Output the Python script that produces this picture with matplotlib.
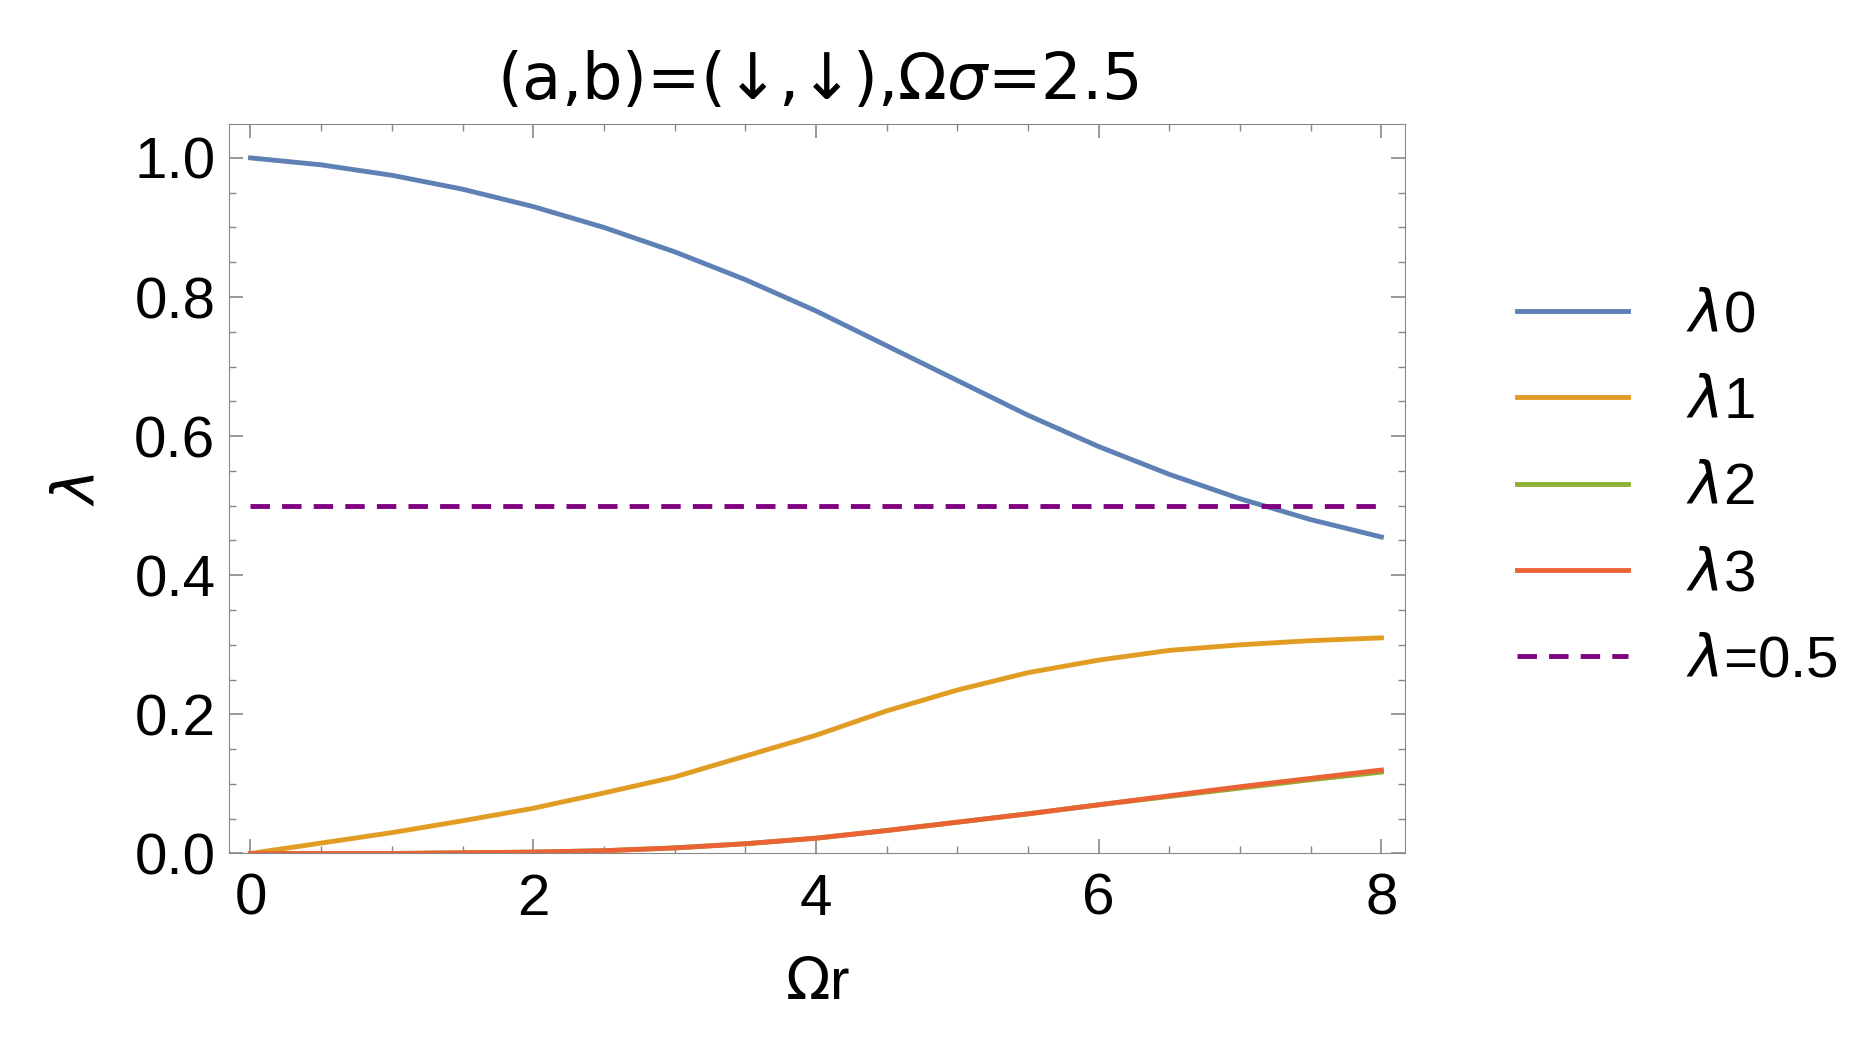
import matplotlib
matplotlib.use("Agg")
import matplotlib.pyplot as plt
from matplotlib.ticker import MultipleLocator, FormatStrFormatter

plt.rcParams['font.family'] = ['Liberation Sans', 'DejaVu Sans']
plt.rcParams['mathtext.fontset'] = 'dejavusans'

x = [0, 0.5, 1, 1.5, 2, 2.5, 3, 3.5, 4, 4.5, 5, 5.5, 6, 6.5, 7, 7.5, 8]
lam0 = [1.0, 0.99, 0.975, 0.955, 0.93, 0.9, 0.865, 0.825, 0.78, 0.73, 0.68, 0.63, 0.585, 0.545, 0.51, 0.48, 0.455]
lam1 = [0.0, 0.015, 0.03, 0.047, 0.065, 0.087, 0.11, 0.14, 0.17, 0.205, 0.235, 0.26, 0.278, 0.292, 0.3, 0.306, 0.31]
lam2 = [0.0, 0.0, 0.0, 0.001, 0.002, 0.004, 0.008, 0.014, 0.022, 0.033, 0.045, 0.057, 0.07, 0.082, 0.094, 0.106, 0.117]
lam3 = [0.0, 0.0, 0.0, 0.001, 0.002, 0.004, 0.008, 0.014, 0.022, 0.033, 0.045, 0.057, 0.07, 0.083, 0.096, 0.108, 0.12]
threshold = 0.5

fig = plt.figure(figsize=(18.64, 10.55), dpi=100)
ax = fig.add_axes([0.123, 0.191, 0.631, 0.691])
ax.plot(x, lam0, color='#5E81B5', lw=3.5, label=r'$\lambda$0')
ax.plot(x, lam1, color='#E19C24', lw=3.5, label=r'$\lambda$1')
ax.plot(x, lam2, color='#8FB032', lw=3.5, label=r'$\lambda$2')
ax.plot(x, lam3, color='#EB6235', lw=3.5, label=r'$\lambda$3')
ax.plot([0, 8], [threshold, threshold], color='#800080', lw=3.5, ls=(0, (4, 2.5)), label=r'$\lambda$=0.5')

ax.set_xlim(-0.15, 8.17)
ax.set_ylim(0, 1.048)
ax.xaxis.set_major_locator(MultipleLocator(2))
ax.xaxis.set_minor_locator(MultipleLocator(0.5))
ax.yaxis.set_major_locator(MultipleLocator(0.2))
ax.yaxis.set_minor_locator(MultipleLocator(0.05))
ax.yaxis.set_major_formatter(FormatStrFormatter('%.1f'))
ax.tick_params(which='both', direction='in', top=True, right=True, labelsize=42, color='#888888')
ax.tick_params(axis='x', pad=14)
ax.tick_params(axis='y', pad=10)
ax.tick_params(which='major', length=10, width=1.2)
ax.tick_params(which='minor', length=5, width=1)
for s in ax.spines.values():
    s.set_color('#888888')
ax.set_xlabel(r'$\Omega$r', fontsize=42, labelpad=22)
ax.set_ylabel(r'$\lambda$', fontsize=42, labelpad=20)
ax.set_title('(a,b)=(↓,↓),Ω' + r'$\sigma$' + '=2.5', fontsize=46, pad=18,
             family=['DejaVu Sans'])

leg = ax.legend(loc='center left', bbox_to_anchor=(1.05, 0.5), frameon=False, fontsize=42,
                handlelength=1.9, labelspacing=0.55, handletextpad=1.0)
fig.savefig('out.png', dpi=100)
